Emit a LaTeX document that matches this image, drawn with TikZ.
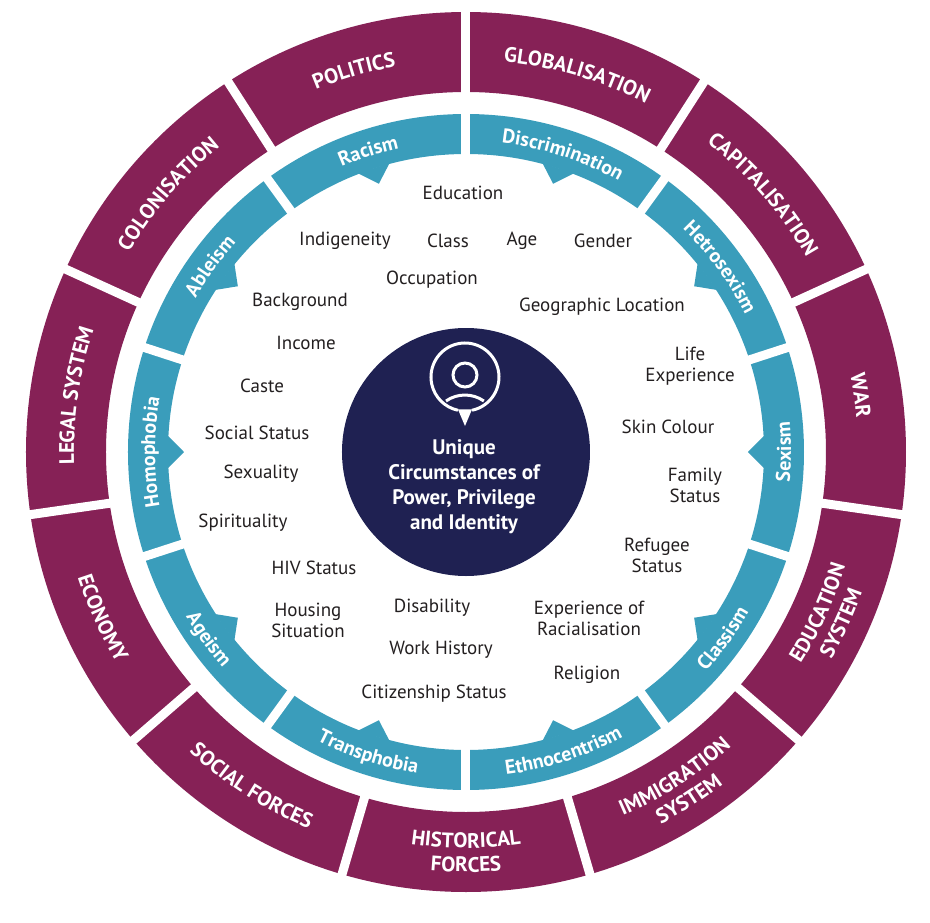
\documentclass[tikz,border=0pt]{standalone}
\usepackage{fontspec}
\setmainfont{PT Sans}
\usetikzlibrary{decorations.text}
\definecolor{plum}{HTML}{862156}
\definecolor{teal}{HTML}{3A9DBB}
\definecolor{navy}{HTML}{1F2152}
\definecolor{ink}{HTML}{231F20}
\newcommand\ctop[4]{\path[decorate,decoration={text along path,text align=center,text={|#3|#4}}] ({#1+50}:#2) arc[start angle={#1+50},end angle={#1-50},radius=#2];}
\newcommand\cbot[4]{\path[decorate,decoration={text along path,text align=center,text={|#3|#4}}] ({#1-50}:#2) arc[start angle={#1-50},end angle={#1+50},radius=#2];}
\newcommand\OF{\fontsize{21}{23}\selectfont\bfseries\color{white}}
\newcommand\BF{\fontsize{20}{22}\selectfont\bfseries\color{white}}
\begin{document}
\begin{tikzpicture}[x=1pt,y=1pt,
  lab/.style={text=ink,font=\fontsize{19}{21}\selectfont,align=center,inner sep=0pt},
  gap/.style={white,line width=9pt}]
\useasboundingbox (-466,-470) rectangle (464,452);
% outer ring
\fill[plum,even odd rule] (0,0) circle[radius=440] (0,0) circle[radius=360];
\foreach \i in {0,...,10}{\draw[gap] ({90-\i*360/11}:352) -- ({90-\i*360/11}:448);}
% blue ring
\fill[teal,even odd rule] (0,0) circle[radius=338] (0,0) circle[radius=298];
\foreach \i in {0,...,9}{\draw[gap] ({90-\i*36}:290) -- ({90-\i*36}:346);
  \fill[teal] ({108-\i*36+3.2}:299) -- ({108-\i*36}:282) -- ({108-\i*36-3.2}:299) -- cycle;}
% outer labels
\ctop{106.4}{392}{\OF}{POLITICS}
\ctop{139.1}{392}{\OF}{COLONISATION}
\ctop{171.8}{392}{\OF}{LEGAL SYSTEM}
\ctop{73.6}{392}{\OF}{GLOBALISATION}
\ctop{40.9}{392}{\OF}{CAPITALISATION}
\ctop{8.2}{392}{\OF}{WAR}
\cbot{204.5}{408}{\OF}{ECONOMY}
\cbot{237.3}{408}{\OF}{SOCIAL FORCES}
\cbot{270}{396}{\OF}{HISTORICAL}
\cbot{270}{420}{\OF}{FORCES}
\cbot{302.7}{396}{\OF}{IMMIGRATION}
\cbot{302.7}{420}{\OF}{SYSTEM}
\cbot{335.5}{396}{\OF}{EDUCATION}
\cbot{335.5}{420}{\OF}{SYSTEM}
% blue labels
\ctop{108}{311}{\BF}{Racism}
\ctop{72}{311}{\BF}{Discrimination}
\ctop{36}{311}{\BF}{Hetrosexism}
\cbot{0}{325}{\BF}{Sexism}
\cbot{324}{325}{\BF}{Classism}
\cbot{288}{325}{\BF}{Ethnocentrism}
\cbot{252}{325}{\BF}{Transphobia}
\cbot{216}{325}{\BF}{Ageism}
\ctop{180}{311}{\BF}{Homophobia}
\ctop{144}{311}{\BF}{Ableism}
% centre
\node[circle,fill=navy,minimum size=248pt,inner sep=0pt] (core) at (0,0) {};
\node[text=white,font=\fontsize{21}{25}\selectfont\bfseries,align=center] (ctext) at (-2,-35)
  {Unique\\Circumstances of\\Power, Privilege\\and Identity};
\begin{scope}[white,line width=3pt]
\draw (-1,77) circle[radius=12];
\draw (-20,51) arc[start angle=125,end angle=55,radius=33];
\draw ({-1+34*cos(-78)},{75+34*sin(-78)}) arc[start angle=-78,end angle=258,radius=34];
\fill ({-1+34*cos(-78)},{75+34*sin(-78)+1}) -- (-1,26) -- ({-1-34*cos(-78)},{75+34*sin(-78)+1}) -- cycle;
\end{scope}
% factors
\node[lab] (n1) at (-3,259) {Education};
\node[lab] (n2) at (-121,211) {Indigeneity};
\node[lab] (n3) at (-18,211) {Class};
\node[lab] (n4) at (56,211) {Age};
\node[lab] (n5) at (137,211) {Gender};
\node[lab] (n6) at (-34,172) {Occupation};
\node[lab] (n7) at (-166,150) {Background};
\node[lab] (n8) at (136,145) {Geographic Location};
\node[lab] (n9) at (-160,109) {Income};
\node[lab] (n10) at (224,86) {Life\\Experience};
\node[lab] (n11) at (-204,66) {Caste};
\node[lab] (n12) at (202,25) {Skin Colour};
\node[lab] (n13) at (-209,19) {Social Status};
\node[lab] (n14) at (-205,-22) {Sexuality};
\node[lab] (n15) at (229,-33) {Family\\Status};
\node[lab] (n16) at (-223,-71) {Spirituality};
\node[lab] (n17) at (191,-103) {Refugee\\Status};
\node[lab] (n18) at (-152,-116) {HIV Status};
\node[lab] (n19) at (-158,-168) {Housing\\Situation};
\node[lab] (n20) at (-34,-156) {Disability};
\node[lab] (n21) at (123,-166) {Experience of\\Racialisation};
\node[lab] (n22) at (-25,-198) {Work History};
\node[lab] (n23) at (121,-223) {Religion};
\node[lab] (n24) at (-32,-242) {Citizenship Status};
\end{tikzpicture}
\end{document}
